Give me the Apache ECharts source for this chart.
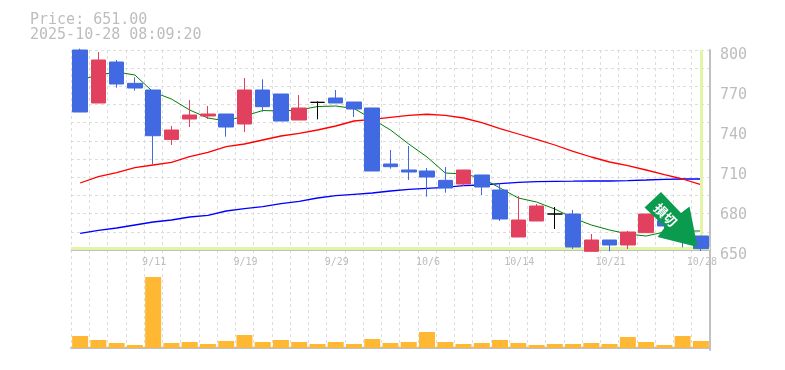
<!DOCTYPE html>
<html>
<head>
<meta charset="utf-8">
<style>html,body{margin:0;padding:0;background:#fff}#c{width:785px;height:370px}</style>
<script src="https://cdn.jsdelivr.net/npm/echarts@6/dist/echarts.min.js"></script>
</head>
<body>
<div id="c"></div>
<script>
const priceText = 'Price: 651.00';
const timeText = '2025-10-28 08:09:20';
const lastPrice = 651;
const arrowText = '損切';
const categories = ['9/5','9/8','9/9','9/10','9/11','9/12','9/16','9/17','9/18','9/19','9/22','9/24','9/25','9/26','9/29','9/30','10/1','10/2','10/3','10/6','10/7','10/8','10/9','10/10','10/14','10/15','10/16','10/17','10/20','10/21','10/22','10/23','10/24','10/27','10/28'];
const opens  = [800,760.25,791,775,770,732.9,748.25,750.5,752,744.5,770,767,747.5,760.75,764,761,756.5,714.5,710,709.25,702.25,699.5,706.25,695,659.75,671.75,677,677,649,657.5,653.75,663,672,665,660.5];
const closes = [753.5,792.5,774.5,771.5,735.7,740,751.25,752,742.25,770,757.5,746.75,756.5,760.75,760.25,755.75,709.25,712.5,708.5,704.75,696.5,710,697.25,673.25,672.5,683,677,652.25,657.5,653.75,663.5,677,668,661,651];
const lows   = [753.5,760.25,771.7,769.5,714.5,728.75,742.25,748.25,735,738.5,753.7,746.75,747.5,748,760.25,749.75,709.25,711,702.5,690,693,698,691.25,671.75,659.75,671.75,665.75,650.75,649,649,650.75,663,666,652,649.25];
const highs  = [801,798.5,792.5,779.5,770,743,762.5,758,752,779,778,767,766.25,761.5,770,761,756.5,725,728,711.5,712.25,710,706.25,700,690.5,684.5,682.25,680,662,657.5,664.25,677,673,666,660.5];
const maShort = [777.5,781.25,783.5,781.25,768.5,763.25,755,749,746.75,750.5,754.6,754.25,755,757.6,758,756.1,748.25,740,729.5,719.75,707.75,707,704,696.5,689,686,680.75,674,668.75,665,662,660.5,663.5,664.25,664.25];
const maMid = [700.25,705,708,711.75,713.75,715.75,720,723.25,727.6,729.5,732.5,735.5,737.4,740,743,746.75,747.9,749.4,750.9,751.8,750.9,749,745.6,741.1,737,732.9,728.75,723.9,719.75,716,713.2,710,706.6,703.25,699];
const maLong = [662.5,664.75,666.5,668.75,671,672.5,674.75,676,679.25,681,682.5,684.75,686.5,689,690.75,691.75,692.75,694.25,695.5,696.25,697,698.25,698.75,699.75,700.75,701.25,701.5,701.6,701.75,701.75,702.1,702.5,703,703.25,703.25];
const volumes = [12,8,5,3,71,5,6,4,7,13,6,8,6,4,6,4,9,5,6,16,6,4,5,8,5,3,4,4,5,4,11,6,3,12,7];

const FONT = '"DejaVu Sans Mono", monospace';
const TXT = '#bdbdbd', GRID = '#dddddd', AXIS = '#c0c0c0', BAND = '#e2f5a6';
const UP = '#e2405f', DOWN = '#4169e1';
const dash = {color: GRID, width: 1, type: [3, 3]};

const candleData = categories.map((_, i) => {
  const item = {value: [opens[i], closes[i], lows[i], highs[i]]};
  if (opens[i] === closes[i]) {
    item.itemStyle = {color: '#000', color0: '#000', borderColor: '#000', borderColor0: '#000', borderColorDoji: '#000'};
  }
  return item;
});

const chart = echarts.init(document.getElementById('c'), null, {renderer: 'canvas'});
chart.setOption({
  animation: false,
  backgroundColor: '#fff',
  title: {
    left: 30, top: 13, padding: 0,
    text: priceText + '\n' + timeText,
    textStyle: {fontFamily: FONT, fontSize: 15, fontWeight: 'normal', color: TXT, lineHeight: 15}
  },
  grid: [
    {left: 71, right: 75, top: 50, height: 200},
    {left: 71, right: 75, top: 250, height: 100}
  ],
  xAxis: [
    {type: 'category', gridIndex: 0, data: categories, boundaryGap: true,
     axisTick: {show: false},
     axisLine: {show: true, lineStyle: {color: AXIS, width: 1}},
     splitLine: {show: true, interval: 0, lineStyle: dash},
     axisLabel: {show: true, interval: (i) => i % 5 === 4, margin: 7, hideOverlap: false,
       fontFamily: FONT, fontSize: 10, color: TXT, padding: [0, 0, 0, 2]}},
    {type: 'category', gridIndex: 1, data: categories, boundaryGap: true,
     axisTick: {show: false}, axisLabel: {show: false},
     axisLine: {show: true, lineStyle: {color: AXIS, width: 2}},
     splitLine: {show: true, interval: 0, lineStyle: dash}}
  ],
  yAxis: [
    {type: 'value', gridIndex: 0, position: 'right', min: 650, max: 800, interval: 30,
     axisLine: {show: true, lineStyle: {color: AXIS, width: 2}},
     axisTick: {show: false}, splitLine: {show: false},
     axisLabel: {margin: 10, fontFamily: FONT, fontSize: 15, color: TXT, lineHeight: 11, verticalAlign: 'top', align: 'left'}},
    {type: 'value', gridIndex: 0, position: 'left', min: 0, max: 11, interval: 1,
     axisLine: {show: false}, axisTick: {show: false}, axisLabel: {show: false},
     splitLine: {show: true, lineStyle: dash}},
    {type: 'value', gridIndex: 1, position: 'right', min: -2, max: 98,
     axisLine: {show: true, lineStyle: {color: AXIS, width: 2}},
     axisTick: {show: false}, axisLabel: {show: false}, splitLine: {show: false}}
  ],
  series: [
    {type: 'line', name: 'long', xAxisIndex: 0, yAxisIndex: 0, data: maLong, symbol: 'none', z: 2,
     lineStyle: {color: '#0000ff', width: 1.3},
     markLine: {silent: true, symbol: 'none', animation: false, label: {show: false},
       lineStyle: {color: BAND, width: 3, type: 'solid'},
       data: [{yAxis: lastPrice}, {xAxis: categories.length - 1}]}},
    {type: 'line', name: 'mid', xAxisIndex: 0, yAxisIndex: 0, data: maMid, symbol: 'none', z: 3,
     lineStyle: {color: '#ff0000', width: 1.3}},
    {type: 'line', name: 'short', xAxisIndex: 0, yAxisIndex: 0, data: maShort, symbol: 'none', z: 3,
     lineStyle: {color: '#008000', width: 1}},
    {type: 'candlestick', xAxisIndex: 0, yAxisIndex: 0, data: candleData, barWidth: 15, z: 5, clip: true,
     itemStyle: {color: UP, color0: DOWN, borderColor: UP, borderColor0: DOWN, borderWidth: 1}},
    {type: 'bar', xAxisIndex: 1, yAxisIndex: 2, data: volumes, barWidth: 16, z: 4,
     itemStyle: {color: '#ffb833'}}
  ],
  graphic: [
    {type: 'polygon', z: 100,
     shape: {points: [[661,192],[681,213],[689.5,206.5],[697.5,247],[657.5,237],[665,227],[644.5,207.5]]},
     style: {fill: '#0b9b4f'}},
    {type: 'text', z: 101, x: 665.5, y: 215, rotation: -Math.PI / 4,
     style: {text: arrowText, fill: '#fff', align: 'center', verticalAlign: 'middle',
       font: 'bold 13px "Noto Sans CJK JP"'}}
  ]
});
</script>
</body>
</html>
